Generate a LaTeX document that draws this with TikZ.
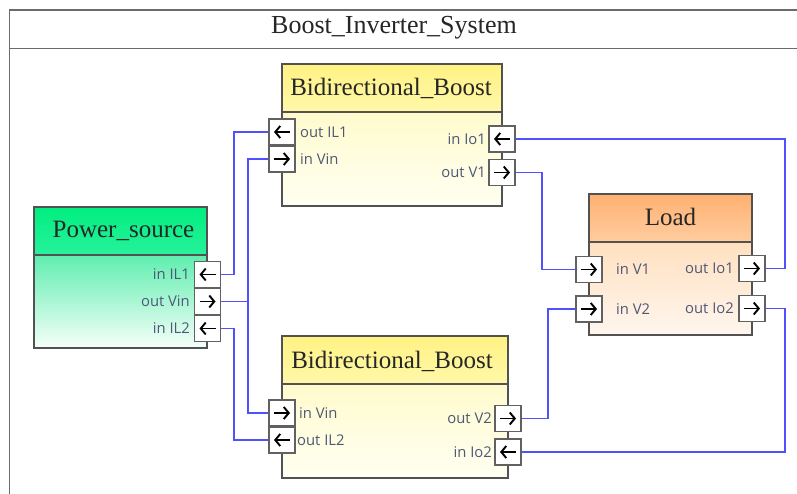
\documentclass[tikz,border=0pt]{standalone}
\usepackage{fontspec}
\usetikzlibrary{arrows.meta}
\setmainfont{Liberation Serif}
\newfontfamily\portfont{Open Sans}
\newcommand{\rarr}{\tikz[x=1pt,y=1pt,baseline=-2.5pt]\draw[line width=1.9pt,-{Straight Barb[length=5pt,width=12pt,line width=1.9pt]}] (0,0) -- (16,0);}
\newcommand{\larr}{\tikz[x=1pt,y=1pt,baseline=-2.5pt]\draw[line width=1.9pt,-{Straight Barb[length=5pt,width=12pt,line width=1.9pt]}] (16,0) -- (0,0);}
\begin{document}
\begin{tikzpicture}[x=1pt,y=-1pt,
  framecol/.style={draw=black!58,line width=1.6pt},
  blockbody/.style={draw=black!68,line width=1.3pt},
  hdrtext/.style={font=\fontsize{25}{26}\selectfont,text=black!85,inner sep=0pt},
  portbox/.style={draw=black!62,fill=white,line width=1.1pt,minimum width=26pt,minimum height=26pt,inner sep=0pt},
  plabel/.style={font=\portfont\fontsize{14.8}{16}\selectfont,text={rgb,255:red,78;green,88;blue,118},inner sep=0pt},
  wire/.style={draw={rgb,255:red,80;green,80;blue,255},line width=1.5pt}
]
\definecolor{gA}{RGB}{0,238,128}
\definecolor{gB}{RGB}{40,242,155}
\definecolor{gC}{RGB}{95,238,175}
\definecolor{gD}{RGB}{246,255,250}
\definecolor{yA}{RGB}{255,242,130}
\definecolor{yB}{RGB}{255,248,170}
\definecolor{yC}{RGB}{255,251,205}
\definecolor{yD}{RGB}{255,255,242}
\definecolor{oA}{RGB}{255,176,112}
\definecolor{oB}{RGB}{255,205,160}
\definecolor{oC}{RGB}{255,224,192}
\definecolor{oD}{RGB}{255,246,238}
\useasboundingbox (0,0) rectangle (797,494);
% outer frame
\draw[framecol] (820,10) -- (9.5,10) -- (9.5,520);
\draw[framecol] (9.5,48.5) -- (820,48.5);
\node[hdrtext,font=\fontsize{26}{27}\selectfont] (systitle) at (394,28) {Boost\_Inverter\_System};

% Power_source block
\shade[top color=gA,bottom color=gB] (34,207) rectangle (207,255);
\shade[top color=gC,bottom color=gD] (34,255) rectangle (207,348);
\draw[blockbody] (34,207) rectangle (207,348);
\draw[blockbody] (34,255) -- (207,255);
\node[hdrtext] (pstitle) at (123.5,231) {Power\_source};

% Boost 1
\shade[top color=yA,bottom color=yB] (282,64) rectangle (502,112);
\shade[top color=yC,bottom color=yD] (282,112) rectangle (502,206);
\draw[blockbody] (282,64) rectangle (502,206);
\draw[blockbody] (282,112) -- (502,112);
\node[hdrtext] (b1title) at (391,88) {Bidirectional\_Boost};

% Boost 2
\shade[top color=yA,bottom color=yB] (282,336) rectangle (508,384);
\shade[top color=yC,bottom color=yD] (282,384) rectangle (508,478);
\draw[blockbody] (282,336) rectangle (508,478);
\draw[blockbody] (282,384) -- (508,384);
\node[hdrtext] (b2title) at (392,361) {Bidirectional\_Boost};

% Load
\shade[top color=oA,bottom color=oB] (589,194) rectangle (752,242);
\shade[top color=oC,bottom color=oD] (589,242) rectangle (752,335);
\draw[blockbody] (589,194) rectangle (752,335);
\draw[blockbody] (589,242) -- (752,242);
\node[hdrtext] (ldtitle) at (670.5,217) {Load};

% ports: Power_source
\node[portbox] (psIL1) at (207.5,274.5) {\larr};
\node[portbox] (psVin) at (207.5,301.5) {\rarr};
\node[portbox] (psIL2) at (207.5,328.5) {\larr};
\node[plabel,anchor=east] (lpsIL1) at (190,274.5) {in IL1};
\node[plabel,anchor=east] (lpsVin) at (190,301.5) {out Vin};
\node[plabel,anchor=east] (lpsIL2) at (190,328.5) {in IL2};

% ports: Boost 1
\node[portbox] (b1IL1) at (282,132) {\larr};
\node[portbox] (b1Vin) at (282,159) {\rarr};
\node[portbox] (b1Io1) at (502,139) {\larr};
\node[portbox] (b1V1) at (502,172.5) {\rarr};
\node[plabel,anchor=west] (lb1IL1) at (300,132) {out IL1};
\node[plabel,anchor=west] (lb1Vin) at (300,159) {in Vin};
\node[plabel,anchor=east] (lb1Io1) at (486,139) {in Io1};
\node[plabel,anchor=east] (lb1V1) at (486,172.5) {out V1};

% ports: Boost 2
\node[portbox] (b2Vin) at (282,413) {\rarr};
\node[portbox] (b2IL2) at (282,440) {\larr};
\node[portbox] (b2V2) at (508,418.5) {\rarr};
\node[portbox] (b2Io2) at (508,452) {\larr};
\node[plabel,anchor=west] (lb2Vin) at (299,413) {in Vin};
\node[plabel,anchor=west] (lb2IL2) at (297,440) {out IL2};
\node[plabel,anchor=east] (lb2V2) at (492,418.5) {out V2};
\node[plabel,anchor=east] (lb2Io2) at (492,452) {in Io2};

% ports: Load
\node[portbox] (ldV1) at (589,269.5) {\rarr};
\node[portbox] (ldV2) at (589,309) {\rarr};
\node[portbox] (ldIo1) at (752,268.5) {\rarr};
\node[portbox] (ldIo2) at (752,308.5) {\rarr};
\node[plabel,anchor=west] (lldV1) at (616,269.5) {in V1};
\node[plabel,anchor=west] (lldV2) at (616,309) {in V2};
\node[plabel,anchor=east] (lldIo1) at (734,268.5) {out Io1};
\node[plabel,anchor=east] (lldIo2) at (734,308.5) {out Io2};

% bus coordinates
\coordinate (busA) at (234,0);
\coordinate (busB) at (248,0);
\coordinate (busC) at (542,0);
\coordinate (busD) at (548,0);
\coordinate (busE) at (785,0);

% wires
\draw[wire] (psIL1.east) -- (psIL1.east -| busA) |- (b1IL1.west);
\draw[wire] (psIL2.east) -- (psIL2.east -| busA) |- (b2IL2.west);
\draw[wire] (psVin.east) -- (psVin.east -| busB) |- (b1Vin.west);
\draw[wire] (psVin.east -| busB) |- (b2Vin.west);
\draw[wire] (b1V1.east) -- (b1V1.east -| busC) |- (ldV1.west);
\draw[wire] (b2V2.east) -- (b2V2.east -| busD) |- (ldV2.west);
\draw[wire] (b1Io1.east) -- (b1Io1.east -| busE) |- (ldIo1.east);
\draw[wire] (b2Io2.east) -- (b2Io2.east -| busE) |- (ldIo2.east);
\end{tikzpicture}
\end{document}
